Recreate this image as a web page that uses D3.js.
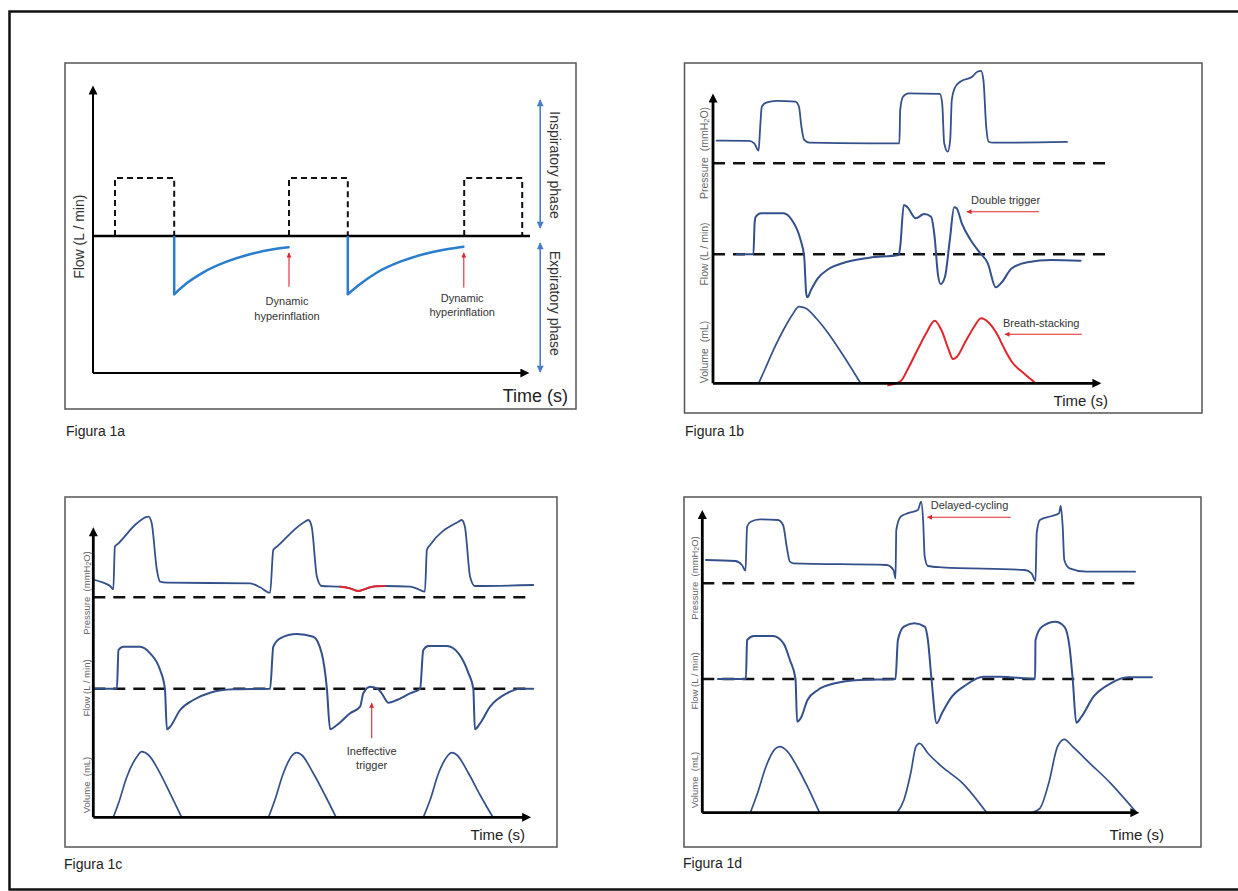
<!DOCTYPE html>
<html><head><meta charset="utf-8">
<script src="https://cdn.jsdelivr.net/npm/d3@7"></script>
<style>
html,body{margin:0;padding:0;background:#fff;}
svg{display:block;font-family:"Liberation Sans",Arial,Helvetica,sans-serif;}
</style></head><body>
<svg id="c" width="1238" height="891"></svg>
<script>
// ================= DATA (time in s, pressure in cmH2O, flow in L/min, volume in mL) =================
// Figura 1a
const fig1aSetFlow = 58;
const fig1aPulses = [[0.55, 2.03], [4.9, 6.37], [9.28, 10.73]];
const fig1aExp1 = [[2.03,0],[2.03,-58.3],[2.34,-47.3],[2.76,-36.3],[3.34,-25.7],[3.92,-18.3],[4.51,-13.3],[4.89,-11.3]];
const fig1aExp2 = [[6.37,0],[6.37,-58.3],[6.68,-48],[7.09,-36.7],[7.68,-25.7],[8.26,-18.3],[8.84,-13.3],[9.26,-10.7]];
const fig1aMarks = [
  {t: 4.9, from: -50.7, to: -17, lines: [["Dynamic", -68.5], ["hyperinflation", -83.5]], tx: 4.85},
  {t: 9.27, from: -51.5, to: -17, lines: [["Dynamic", -66], ["hyperinflation", -80]], tx: 9.23}
];
const fig1aPhases = [
  {label: "Inspiratory phase", from: 136, to: 8, mid: 71},
  {label: "Expiratory phase", from: -7, to: -136, mid: -67.3}
];

// Figura 1b
const fig1bPressure = [[0.09,11.3],[0.9,11.2],[1.03,10],[1.14,6.3],[1.18,18.3],[1.22,28.3],[1.33,30.3],[1.59,31.2],[2.06,30.8],[2.15,28.3],[2.21,18.3],[2.28,11.7],[2.41,10.3],[3.91,10],[4.66,10],[4.68,26.7],[4.75,33.3],[4.89,35],[5.67,34.7],[5.73,30],[5.78,10],[5.87,5.8],[5.93,11.7],[5.97,31.7],[6.04,37.5],[6.18,40.8],[6.48,43.3],[6.61,45.8],[6.7,46.2],[6.76,41.7],[6.83,18.3],[6.89,10.8],[7.0,10.3],[8.85,10.7]];
const fig1bFlow = [[0.6,0],[1.01,0],[1.04,31],[1.07,37.6],[1.2,41],[1.76,41],[1.97,34.3],[2.19,14.3],[2.28,-2.4],[2.33,-39],[2.36,-43],[2.45,-35.7],[2.62,-24],[2.88,-15],[3.31,-8],[3.91,-3.4],[4.64,-0.7],[4.68,7.6],[4.77,49.3],[4.85,47.6],[5.07,36],[5.28,40.3],[5.45,37.6],[5.54,17.6],[5.62,-19],[5.69,-29.7],[5.8,-22.4],[5.92,14.3],[6.03,47],[6.09,46],[6.22,31],[6.44,14.3],[6.65,2.6],[6.87,-9],[7.07,-33],[7.21,-28.4],[7.47,-14],[7.86,-8],[8.46,-5.7],[9.19,-6.4]];
const fig1bVolume = [[1.14,0],[1.29,133],[1.55,366],[1.76,533],[1.98,683],[2.15,766],[2.32,750],[2.58,650],[2.88,500],[3.22,300],[3.69,0]];
const fig1bStacked = [[4.38,-20],[4.68,16],[4.9,166],[5.11,333],[5.33,500],[5.54,626],[5.71,533],[5.88,350],[6.0,243],[6.1,266],[6.31,416],[6.53,566],[6.7,650],[6.87,616],[7.09,500],[7.3,333],[7.47,216],[7.77,100],[8.07,0]];
const fig1bBaselineEnds = [9.8, 9.8];
const fig1bNotes = [
  {text: "Double trigger", trace: "F", tx: 6.45, ty: 50.3, a0: 8.15, a1: 6.35, ay: 42.6},
  {text: "Breath-stacking", trace: "V", tx: 7.25, ty: 566, a0: 9.22, a1: 7.3, ay: 490}
];

// Figura 1c
const fig1cPressure = [[0.04,8.65],[0.25,7.3],[0.42,5.65],[0.5,4],[0.54,25.3],[0.63,27],[1.09,37],[1.32,40.1],[1.38,40.3],[1.46,37],[1.59,13.65],[1.67,7.8],[1.84,7.3],[3.92,7],[4.17,5],[4.42,2.3],[4.5,23.65],[4.59,25.3],[5.29,37.8],[5.38,38.65],[5.46,35.3],[5.59,10.3],[5.71,5.65],[6.17,5.3],[6.42,4.5],[6.63,3.15],[6.84,4.5],[7.04,5.5],[7.29,5.65],[7.92,5.3],[8.13,4],[8.29,2.8],[8.34,23.65],[8.42,26.15],[9.13,37.8],[9.21,38.65],[9.29,35.3],[9.42,10.3],[9.54,5.65],[11.0,6.15]];
const fig1cMissed = [[6.17,5.3],[6.42,4.5],[6.63,3.15],[6.84,4.5],[7.04,5.5],[7.29,5.65]];
const fig1cFlow = [[0.04,0],[0.59,0],[0.63,38.7],[0.75,42],[1.17,42],[1.42,35.4],[1.67,18.7],[1.79,0],[1.84,-40.6],[1.92,-38],[2.17,-21.3],[2.5,-11.3],[2.92,-4],[3.5,-0.6],[4.42,0],[4.5,42],[4.67,50.4],[5.09,54.7],[5.5,52],[5.71,35.4],[5.84,0],[5.92,-40.6],[6.09,-36.3],[6.42,-24.6],[6.67,-18],[6.75,-4.6],[6.92,2],[7.09,0.4],[7.21,-4.6],[7.38,-14],[7.59,-11.3],[7.92,-4.6],[8.17,0],[8.25,38.7],[8.38,42.7],[8.84,42.7],[9.13,35.4],[9.38,15.4],[9.5,0],[9.54,-40.6],[9.67,-34.6],[9.92,-18],[10.34,-4.6],[10.67,0],[11.0,0]];
const fig1cVolume1 = [[0.5,0],[0.63,140],[0.84,406],[1.09,606],[1.21,656],[1.38,623],[1.67,440],[1.92,240],[2.21,0]];
const fig1cVolume2 = [[4.38,0],[4.54,173],[4.75,440],[4.96,613],[5.07,646],[5.21,623],[5.5,440],[5.79,223],[6.07,0]];
const fig1cVolume3 = [[8.25,0],[8.42,173],[8.63,440],[8.84,606],[8.96,646],[9.09,623],[9.38,440],[9.67,223],[9.99,0]];
const fig1cBaselineEnds = [10.99, 10.99];
const fig1cNotes = [
  {lines: [["Ineffective", -66.3], ["trigger", -79.8]], trace: "F", tx: 6.96, arrowT: 6.96, a0: -49.6, a1: -14.6}
];

// Figura 1d
const fig1dPressure = [[0.09,11.65],[0.82,11.15],[0.99,9.15],[1.08,6.3],[1.12,28.3],[1.21,30.8],[1.44,32],[1.89,31.65],[2.02,29.15],[2.11,18.3],[2.19,10.8],[2.28,10],[4.61,9.15],[4.78,6.65],[4.83,2.5],[4.85,26.65],[4.96,33.3],[5.13,35],[5.39,36.65],[5.47,40.8],[5.52,31.65],[5.56,13.3],[5.64,8.65],[5.99,8],[8.06,6.65],[8.23,5],[8.33,1.15],[8.36,25],[8.44,31.65],[8.74,33.65],[8.92,35],[8.96,38.65],[9.01,28.3],[9.05,11.65],[9.18,7.5],[9.61,5.8],[10.82,5.8]];
const fig1dFlow = [[0.39,0],[1.09,0],[1.12,39],[1.29,43],[1.77,43],[2.03,35.7],[2.19,19],[2.33,0],[2.37,-42.7],[2.46,-39.3],[2.63,-21],[2.89,-11],[3.32,-4.3],[3.92,-1],[4.83,0],[4.89,39],[5.04,52.3],[5.3,55.7],[5.56,52.3],[5.64,39],[5.73,0],[5.86,-44.3],[5.99,-34.3],[6.24,-17.7],[6.59,-6],[7.02,2.3],[7.45,2.3],[8.32,0],[8.33,39],[8.49,52.3],[8.83,57.3],[9.05,52.3],[9.18,32.3],[9.26,0],[9.35,-43.7],[9.48,-37.7],[9.78,-17.7],[10.21,-4.3],[10.64,1.7],[11.24,1.7]];
const fig1dVolume1 = [[1.2,0],[1.38,194],[1.59,460],[1.81,634],[1.94,660],[2.11,620],[2.37,460],[2.63,260],[2.93,0]];
const fig1dVolume2 = [[4.87,0],[5.04,127],[5.21,394],[5.34,660],[5.43,694],[5.64,594],[5.99,460],[6.51,294],[7.11,0]];
const fig1dVolume3 = [[8.23,0],[8.44,44],[8.66,294],[8.88,660],[9.05,734],[9.26,660],[9.69,494],[10.21,294],[10.73,60],[10.86,0]];
const fig1dBaselineEnds = [10.99, 10.77];
const fig1dNotes = [
  {text: "Delayed-cycling", trace: "P", tx: 5.71, ty: 37, a0: 7.71, a1: 5.63, ay: 33}
];

const captions = ["Figura 1a", "Figura 1b", "Figura 1c", "Figura 1d"];
const traceLabels = ["Pressure\u00A0\u00A0(mmH", "2", "O)", "Flow (L / min)", "Volume\u00A0\u00A0(mL)"];

// ================= LAYOUT =================
const NAVY = "#34508a", RED = "#e0262c", BLUE1A = "#2a7ccc";
const svg = d3.select("#c");
const defs = svg.append("defs");
function marker(id, w, h, color, refX) {
  defs.append("marker").attr("id", id).attr("viewBox", "0 0 10 10")
    .attr("refX", refX).attr("refY", 5).attr("markerWidth", w).attr("markerHeight", h)
    .attr("markerUnits", "userSpaceOnUse").attr("orient", "auto-start-reverse")
    .append("path").attr("d", "M0,0L10,5L0,10Z").attr("fill", color);
}
marker("axA", 11, 9, "#000", 4);
marker("redA", 6, 5, RED, 9);
marker("blueA", 8, 7, "#4a7ec4", 9);

// outer frame
svg.append("rect").attr("x", 9.5).attr("y", 11.5).attr("width", 1260).attr("height", 878)
  .attr("fill", "none").attr("stroke", "#111").attr("stroke-width", 2.5);

const line = (x, y) => d3.line().x(d => x(d[0])).y(d => y(d[1])).curve(d3.curveMonotoneX);

function box(g, b) {
  g.append("rect").attr("x", b[0]).attr("y", b[1]).attr("width", b[2] - b[0]).attr("height", b[3] - b[1])
    .attr("fill", "none").attr("stroke", "#555").attr("stroke-width", 1.5);
}
function caption(g, x, y, t) {
  g.append("text").attr("x", x).attr("y", y).attr("font-size", 14).attr("fill", "#222").text(t);
}
function wave(g, x, y, data, color, w) {
  g.append("path").datum(data).attr("d", line(x, y)).attr("fill", "none").attr("stroke", color)
    .attr("stroke-width", w).attr("stroke-linejoin", "round").attr("stroke-linecap", "round");
}
function redArrow(g, x1, y1, x2, y2) {
  g.append("line").attr("x1", x1).attr("y1", y1).attr("x2", x2).attr("y2", y2)
    .attr("stroke", RED).attr("stroke-width", 1.1).attr("marker-end", "url(#redA)");
}

// ---------- Figura 1a ----------
(function () {
  const L = {box: [65, 63, 576, 409], x0: 93, base: 236, axBottom: 373, axTop: 85, tip: 530};
  const g = svg.append("g");
  box(g, L.box);
  const x = d3.scaleLinear().domain([0, 10]).range([L.x0, L.x0 + 400]);
  const y = d3.scaleLinear().domain([0, 100]).range([L.base, L.base - 100]);
  // square set-flow (dashed)
  g.selectAll("path.pulse").data(fig1aPulses).join("path").attr("class", "pulse")
    .attr("d", p => `M${x(p[0])},${y(0)}V${y(fig1aSetFlow)}H${x(p[1])}V${y(0)}`)
    .attr("fill", "none").attr("stroke", "#111").attr("stroke-width", 2).attr("stroke-dasharray", "6,4");
  // zero-flow baseline
  g.append("line").attr("x1", L.x0).attr("x2", L.tip).attr("y1", y(0)).attr("y2", y(0))
    .attr("stroke", "#000").attr("stroke-width", 2.5);
  // expiratory flow: abrupt drop, then exponential return
  [fig1aExp1, fig1aExp2].forEach(d => {
    g.append("path").datum(d.slice(0, 2)).attr("d", d3.line().x(p => x(p[0])).y(p => y(p[1])))
      .attr("stroke", BLUE1A).attr("stroke-width", 2.5).attr("fill", "none");
    wave(g, x, y, d.slice(1), BLUE1A, 2.5);
  });
  // axes
  g.append("line").attr("x1", L.x0).attr("y1", L.axBottom).attr("x2", L.x0).attr("y2", L.axTop + 6)
    .attr("stroke", "#000").attr("stroke-width", 2).attr("marker-end", "url(#axA)");
  g.append("line").attr("x1", L.x0).attr("y1", L.axBottom).attr("x2", L.tip - 6).attr("y2", L.axBottom)
    .attr("stroke", "#000").attr("stroke-width", 2).attr("marker-end", "url(#axA)");
  // hyperinflation marks
  fig1aMarks.forEach(m => {
    redArrow(g, x(m.t), y(m.from), x(m.t), y(m.to));
    m.lines.forEach(([t, v]) => g.append("text").attr("x", x(m.tx)).attr("y", y(v))
      .attr("text-anchor", "middle").attr("font-size", 11).attr("fill", "#333").text(t));
  });
  // phase arrows
  fig1aPhases.forEach(p => {
    g.append("line").attr("x1", x(11.18)).attr("x2", x(11.18)).attr("y1", y(p.from)).attr("y2", y(p.to))
      .attr("stroke", "#4a7ec4").attr("stroke-width", 1.6)
      .attr("marker-start", "url(#blueA)").attr("marker-end", "url(#blueA)");
    g.append("text").attr("transform", `translate(${x(11.55)},${y(p.mid)}) rotate(90)`)
      .attr("text-anchor", "middle").attr("dominant-baseline", "central")
      .attr("font-size", 14).attr("fill", "#333").text(p.label);
  });
  g.append("text").attr("transform", `translate(78.5,${y(-0.7)}) rotate(-90)`)
    .attr("text-anchor", "middle").attr("dominant-baseline", "central")
    .attr("font-size", 14).attr("fill", "#333").text("Flow (L / min)");
  g.append("text").attr("x", 568).attr("y", 402).attr("text-anchor", "end")
    .attr("font-size", 18).attr("fill", "#222").text("Time (s)");
  caption(g, 66, 436, captions[0]);
})();

// ---------- Generic waveform panel ----------
function wavePanel(L, D) {
  const g = svg.append("g");
  box(g, L.box);
  const x = d3.scaleLinear().domain([0, 10]).range([L.x0, L.x0 + 400]);
  const yP = d3.scaleLinear().domain([0, 10]).range([L.pBase, L.pBase - 20]);
  const yF = d3.scaleLinear().domain([0, 10]).range([L.fBase, L.fBase - 10]);
  const yV = d3.scaleLinear().domain([0, 100]).range([L.vBase, L.vBase - 10]);
  const Y = {P: yP, F: yF, V: yV};
  // dashed zero lines
  [[yP, D.ends[0]], [yF, D.ends[1]]].forEach(([y, e]) =>
    g.append("line").attr("x1", x(0)).attr("x2", x(e)).attr("y1", y(0)).attr("y2", y(0))
      .attr("stroke", "#111").attr("stroke-width", 2.5).attr("stroke-dasharray", "12,8"));
  // traces
  wave(g, x, yP, D.pressure, NAVY, 1.8);
  if (D.pressureRed) wave(g, x, yP, D.pressureRed, RED, 1.9);
  wave(g, x, yF, D.flow, NAVY, 2);
  D.volume.forEach(v => wave(g, x, yV, v, NAVY, 1.7));
  if (D.volumeRed) wave(g, x, yV, D.volumeRed, RED, 2);
  // axes
  g.append("line").attr("x1", x(0)).attr("y1", yV(0)).attr("x2", x(0)).attr("y2", L.axTop + 6)
    .attr("stroke", "#000").attr("stroke-width", 2.8).attr("marker-end", "url(#axA)");
  g.append("line").attr("x1", x(0)).attr("y1", yV(0)).attr("x2", L.tip - 6).attr("y2", yV(0))
    .attr("stroke", "#000").attr("stroke-width", 2.8).attr("marker-end", "url(#axA)");
  // trace labels
  const lab = (cy, fn) => {
    const t = g.append("text").attr("transform", `translate(${L.lab.x},${cy}) rotate(-90)`)
      .attr("text-anchor", "middle").attr("dominant-baseline", "central")
      .attr("font-size", L.lab.size).attr("fill", "#666");
    fn(t);
  };
  lab(L.lab.p, t => {
    t.append("tspan").text(traceLabels[0]);
    t.append("tspan").attr("font-size", L.lab.size * 0.7).attr("dy", 2).text(traceLabels[1]);
    t.append("tspan").attr("dy", -2).text(traceLabels[2]);
  });
  lab(L.lab.f, t => t.text(traceLabels[3]));
  lab(L.lab.v, t => t.text(traceLabels[4]));
  // annotations
  D.notes.forEach(n => {
    const y = Y[n.trace];
    if (n.lines) {
      n.lines.forEach(([s, v]) => g.append("text").attr("x", x(n.tx)).attr("y", y(v))
        .attr("text-anchor", "middle").attr("font-size", 11).attr("fill", "#333").text(s));
      redArrow(g, x(n.arrowT), y(n.a0), x(n.arrowT), y(n.a1));
    } else {
      g.append("text").attr("x", x(n.tx)).attr("y", y(n.ty)).attr("font-size", 11)
        .attr("fill", "#333").text(n.text);
      redArrow(g, x(n.a0), y(n.ay), x(n.a1), y(n.ay));
    }
  });
  g.append("text").attr("x", L.title.x).attr("y", L.title.y).attr("text-anchor", "end")
    .attr("font-size", 15).attr("fill", "#222").text("Time (s)");
  caption(g, L.cap[0], L.cap[1], L.cap[2]);
}

wavePanel(
  {box: [684.5, 63, 1202, 413], x0: 713, axTop: 93, tip: 1102, pBase: 163.3, fBase: 254.3, vBase: 383.3,
   lab: {x: 704, p: 153, f: 254, v: 352, size: 10.5}, title: {x: 1108, y: 406}, cap: [685, 436, captions[1]]},
  {pressure: fig1bPressure, flow: fig1bFlow, volume: [fig1bVolume], volumeRed: fig1bStacked,
   ends: fig1bBaselineEnds, notes: fig1bNotes});

wavePanel(
  {box: [65, 497, 557, 847], x0: 93.3, axTop: 526.7, tip: 531.7, pBase: 597.3, fBase: 688.7, vBase: 817.3,
   lab: {x: 86, p: 593, f: 688, v: 785, size: 9.5}, title: {x: 525, y: 840}, cap: [64, 869, captions[2]]},
  {pressure: fig1cPressure, pressureRed: fig1cMissed, flow: fig1cFlow,
   volume: [fig1cVolume1, fig1cVolume2, fig1cVolume3], ends: fig1cBaselineEnds, notes: fig1cNotes});

wavePanel(
  {box: [684, 497, 1201, 847], x0: 702.3, axTop: 509.3, tip: 1140, pBase: 583.3, fBase: 679, vBase: 812.7,
   lab: {x: 694, p: 578, f: 681, v: 780, size: 9.5}, title: {x: 1164, y: 839.5}, cap: [683, 868, captions[3]]},
  {pressure: fig1dPressure, flow: fig1dFlow, volume: [fig1dVolume1, fig1dVolume2, fig1dVolume3],
   ends: fig1dBaselineEnds, notes: fig1dNotes});
</script></body></html>
